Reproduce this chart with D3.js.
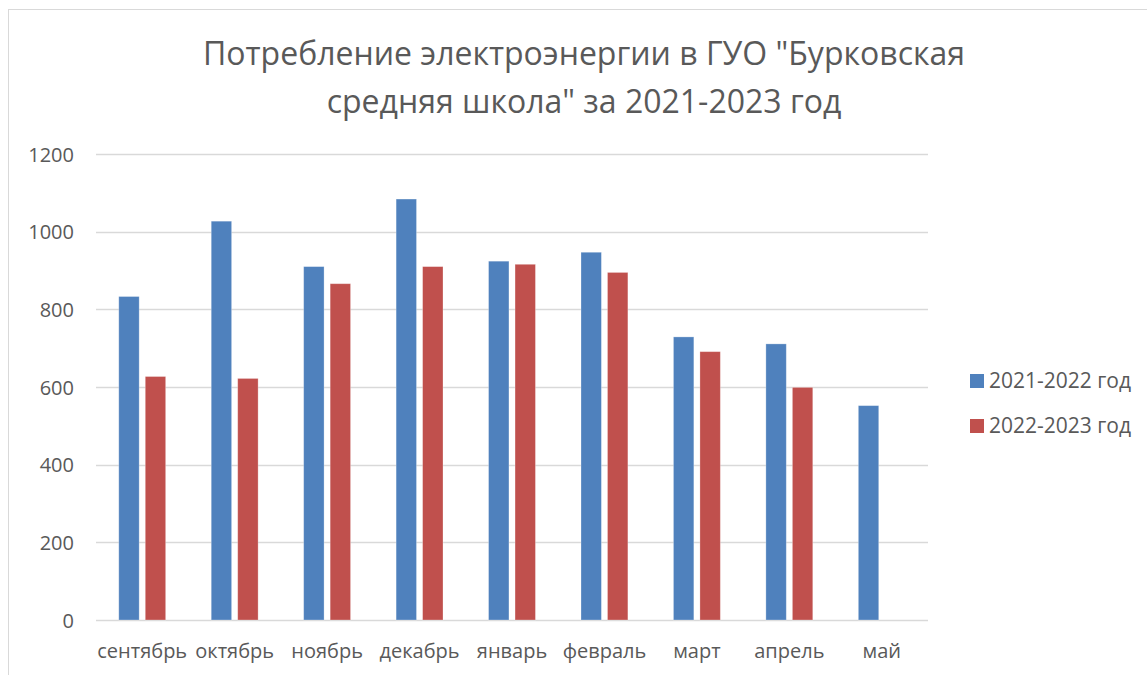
<!DOCTYPE html>
<html><head><meta charset="utf-8">
<script src="https://cdn.jsdelivr.net/npm/d3@7"></script>
<style>body{margin:0;background:#fff}svg{display:block}</style>
</head><body>
<svg id="c" width="1147" height="675"></svg>
<script>
const categories = ["сентябрь","октябрь","ноябрь","декабрь","январь","февраль","март","апрель","май"];
const seriesNames = ["2021-2022 год","2022-2023 год"];
const values2021 = [833, 1027, 910, 1084, 924, 947, 729, 711, 552];
const values2022 = [627, 622, 866, 910, 916, 895, 691, 599, null];
const yTicks = [0, 200, 400, 600, 800, 1000, 1200];
const titleLines = ["Потребление электроэнергии в ГУО \"Бурковская", "средняя школа\" за 2021-2023 год"];
const colors = ["#4f81bd", "#c0504d"];

const svg = d3.select("#c");
const font = "'Open Sans', 'Noto Sans', sans-serif";
const textCol = "#595959";

// chart frame
svg.append("rect").attr("x", 8.5).attr("y", 9.5).attr("width", 1160).attr("height", 700)
  .attr("fill", "none").attr("stroke", "#d9d9d9").attr("stroke-width", 1);

const x0 = d3.scaleBand().domain(categories).range([96, 928]).paddingInner(0).paddingOuter(0);
const x1 = d3.scaleBand().domain([0,1]).range([0, x0.bandwidth()]).paddingInner(0.23).paddingOuter(0.86);
const y = d3.scaleLinear().domain([0, 1200]).range([620, 154]);

// gridlines
svg.append("g").selectAll("line").data(yTicks).join("line")
  .attr("x1", 96).attr("x2", 928)
  .attr("y1", d => Math.round(y(d)) + 0.5).attr("y2", d => Math.round(y(d)) + 0.5)
  .attr("stroke", "#d9d9d9").attr("stroke-width", 1.3);

// y axis labels
const yAxis = d3.axisLeft(y).tickValues(yTicks).tickFormat(d3.format("d")).tickSize(0).tickPadding(0);
const gy = svg.append("g").attr("transform", "translate(74,0)").call(yAxis);
gy.select(".domain").remove();
gy.selectAll("text").attr("font-family", font).attr("font-size", 20).attr("fill", textCol).attr("dy", "0.35em");

// x axis labels
const xAxis = d3.axisBottom(x0).tickSize(0).tickPadding(0);
const gx = svg.append("g").attr("transform", "translate(0,643)").call(xAxis);
gx.select(".domain").remove();
gx.selectAll("text").attr("font-family", font).attr("font-size", 20).attr("fill", textCol)
  .attr("dy", "0.75em");

// bars
const data = categories.map((c, i) => ({c, v: [values2021[i], values2022[i]]}));
const groups = svg.append("g").selectAll("g").data(data).join("g")
  .attr("transform", d => `translate(${x0(d.c)},0)`);
groups.selectAll("rect").data(d => d.v.map((v, k) => ({v, k})).filter(e => e.v != null)).join("rect")
  .attr("x", e => x1(e.k)).attr("width", x1.bandwidth())
  .attr("y", e => y(e.v)).attr("height", e => y(0) - y(e.v))
  .attr("fill", e => colors[e.k]).attr("stroke", "#fff").attr("stroke-opacity", 0.35).attr("stroke-width", 0.8);

// title
svg.append("g").selectAll("text").data(titleLines).join("text")
  .attr("x", 584).attr("y", (d, i) => 65 + i * 48)
  .attr("text-anchor", "middle").attr("font-family", font).attr("font-size", 32)
  .attr("fill", textCol).text(d => d);

// legend
const lg = svg.append("g").selectAll("g").data(seriesNames).join("g")
  .attr("transform", (d, i) => `translate(970,${374 + i * 45})`);
lg.append("rect").attr("width", 14).attr("height", 14).attr("fill", (d, i) => colors[i]);
lg.append("text").attr("x", 19).attr("y", 14).attr("font-family", font).attr("font-size", 21)
  .attr("fill", textCol).text(d => d);
</script>
</body></html>
